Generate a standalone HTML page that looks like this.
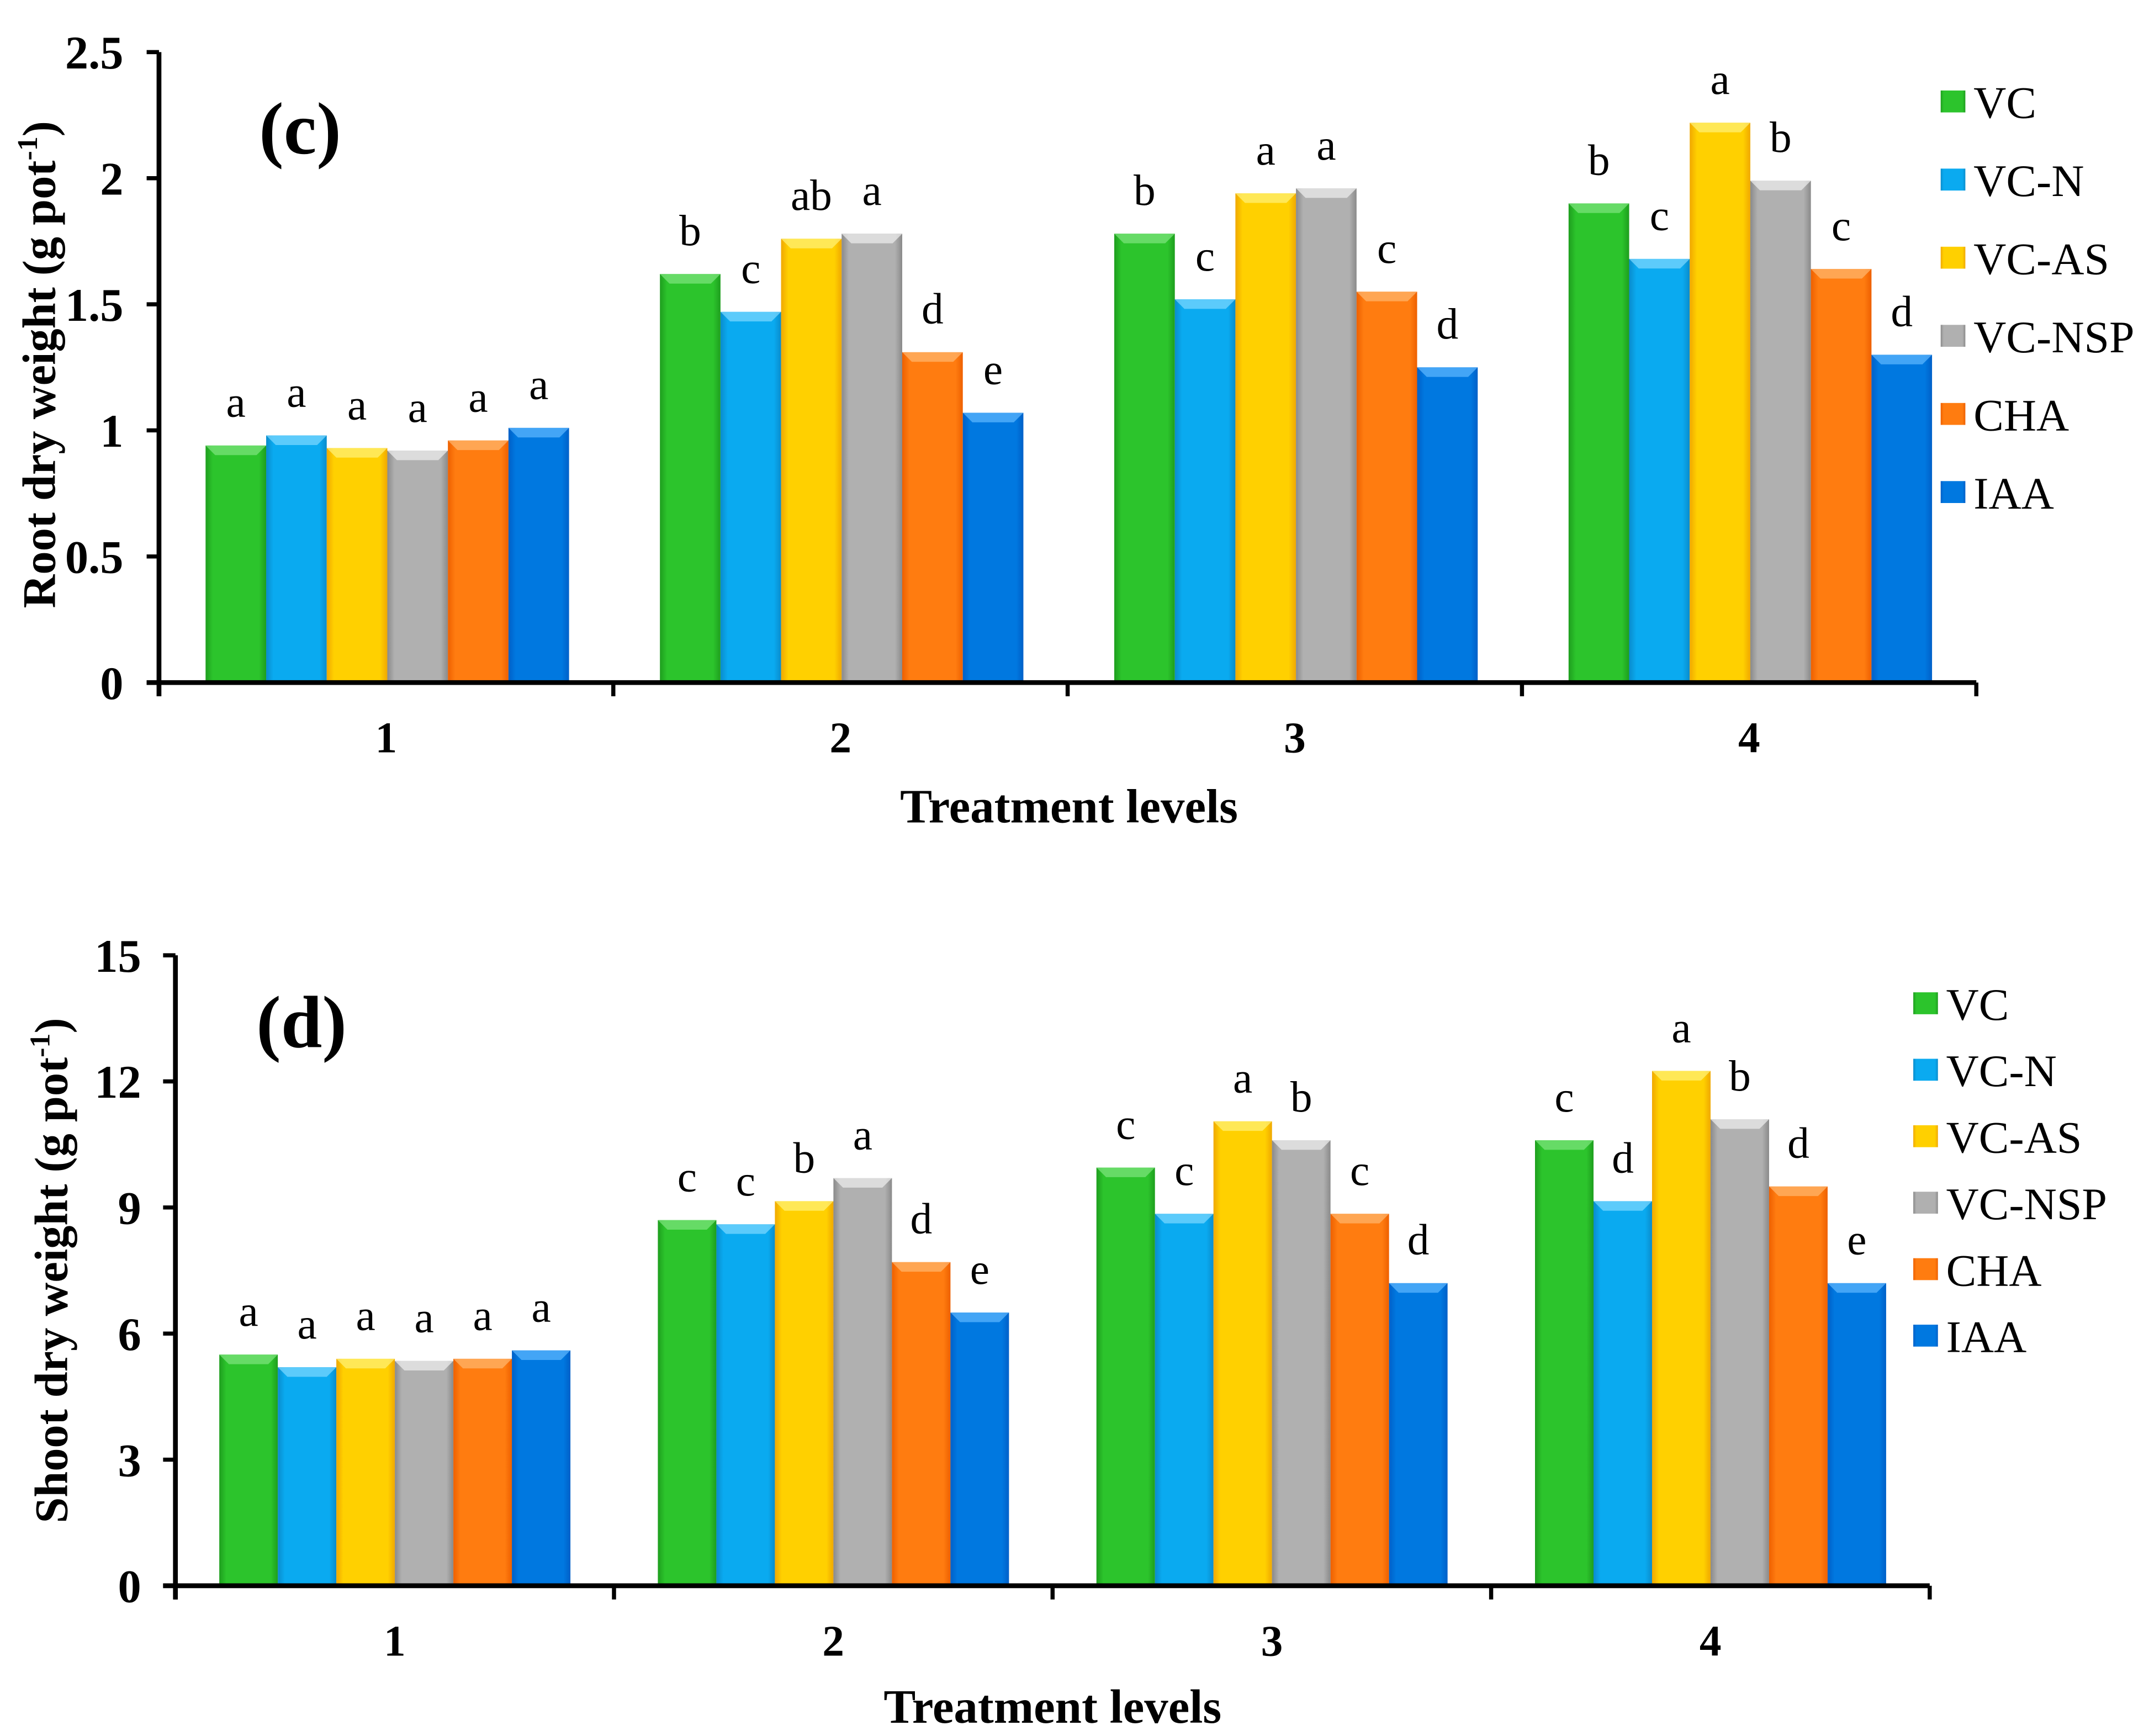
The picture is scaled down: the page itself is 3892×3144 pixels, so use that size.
<!DOCTYPE html>
<html><head><meta charset="utf-8"><style>
html,body{margin:0;padding:0;background:#fff}
svg{display:block}
text{font-family:"Liberation Serif",serif;fill:#000}
</style></head><body>
<svg id="c" width="3892" height="3144" viewBox="0 0 1568 1266.6" xmlns="http://www.w3.org/2000/svg">
<defs id="defs"></defs>
</svg>
<script>
const series = ["VC","VC-N","VC-AS","VC-NSP","CHA","IAA"];
const categories = ["1","2","3","4"];
const rootValues = [
 [0.94,0.98,0.93,0.92,0.96,1.01],
 [1.62,1.47,1.76,1.78,1.31,1.07],
 [1.78,1.52,1.94,1.96,1.55,1.25],
 [1.90,1.68,2.22,1.99,1.64,1.30]];
const rootLetters = [
 ["a","a","a","a","a","a"],
 ["b","c","ab","a","d","e"],
 ["b","c","a","a","c","d"],
 ["b","c","a","b","c","d"]];
const rootTicks = ["0","0.5","1","1.5","2","2.5"];
const shootValues = [
 [5.5,5.2,5.4,5.35,5.4,5.6],
 [8.7,8.6,9.15,9.7,7.7,6.5],
 [9.95,8.85,11.05,10.6,8.85,7.2],
 [10.6,9.15,12.25,11.1,9.5,7.2]];
const shootLetters = [
 ["a","a","a","a","a","a"],
 ["c","c","b","a","d","e"],
 ["c","c","a","b","c","d"],
 ["c","d","a","b","d","e"]];
const shootTicks = ["0","3","6","9","12","15"];

const colors = [["#1e9e1e","#2cc42c","#7fe57f"],["#0a8ccc","#0aaaf0","#7fd8ff"],["#f0a800","#ffd000","#fff27a"],["#8a8a8a","#b0b0b0","#f0f0f0"],["#ee6000","#ff7c10","#ffb870"],["#0060c8","#0078e0","#60b8ff"]];
const NS="http://www.w3.org/2000/svg";
const svg=document.getElementById('c');
const defs=document.getElementById('defs');
function el(tag,attrs,parent){const e=document.createElementNS(NS,tag);for(const k in attrs)e.setAttribute(k,attrs[k]);(parent||svg).appendChild(e);return e;}
colors.forEach((c,i)=>{
 const g=el('linearGradient',{id:'g'+i,x1:0,x2:1,y1:0,y2:0},defs);
 el('stop',{offset:0,'stop-color':c[0]},g);el('stop',{offset:0.12,'stop-color':c[1]},g);
 el('stop',{offset:0.88,'stop-color':c[1]},g);el('stop',{offset:1,'stop-color':c[0]},g);
});
function drawChart(o){
 const grp=el('g',{});
 
 
 const y=v=>o.y0-(v/o.max)*(o.y0-o.yTop);
 const gw=(o.xEnd-o.x0)/categories.length;
 o.values.forEach((row,gi)=>{
  row.forEach((v,si)=>{
   const bx=o.x0+gi*gw+o.off+si*o.bw, by=y(v), h=o.y0-by;
   const r=el('rect',{x:bx,y:by,width:o.bw,height:h,fill:'url(#g'+si+')'},grp);
   
   
   const b=7;
   el('polygon',{points:`${bx},${by} ${bx+o.bw},${by} ${bx+o.bw-b},${by+b} ${bx+b},${by+b}`,fill:colors[si][2],opacity:0.7},grp);
   const t=el('text',{x:bx+o.bw/2,y:by-21,'text-anchor':'middle','font-size':32},grp);
   t.textContent=o.letters[gi][si];
   
   
  });
 });
 el('line',{x1:o.x0,y1:o.yTop,x2:o.x0,y2:o.y0+10,stroke:'#000','stroke-width':3.5},grp);
 el('line',{x1:o.x0-9,y1:o.y0,x2:o.xEnd,y2:o.y0,stroke:'#000','stroke-width':3.5},grp);
 o.ticks.forEach((tk,i)=>{
  const ty=y(parseFloat(tk));
  el('line',{x1:o.x0-9,y1:ty,x2:o.x0,y2:ty,stroke:'#000','stroke-width':3},grp);
  const t=el('text',{x:o.tickX,y:ty+12,'text-anchor':'end','font-size':34,'font-weight':'bold'},grp);
  t.textContent=tk;
  
  
 });
 for(let i=0;i<=categories.length;i++){
  const tx=o.x0+i*gw;
  el('line',{x1:tx,y1:o.y0,x2:tx,y2:o.y0+10,stroke:'#000','stroke-width':3},grp);
 }
 categories.forEach((c,i)=>{
  const t=el('text',{x:o.x0+(i+0.5)*gw,y:o.catY,'text-anchor':'middle','font-size':32,'font-weight':'bold'},grp);
  t.textContent=c;
  
  
 });
 const xt=el('text',{x:o.xTitleX,y:o.xTitleY,'text-anchor':'middle','font-size':35,'font-weight':'bold'},grp);
 xt.textContent='Treatment levels';
 
 
 const yt=el('text',{x:0,y:0,'text-anchor':'middle','font-size':34,'font-weight':'bold',transform:`translate(${o.yTitleX},${o.yTitleY}) rotate(-90)`},grp);
 yt.innerHTML=o.yTitle+' (g pot<tspan dy="-13" font-size="21">-1</tspan><tspan dy="13">)</tspan>';
 
 
 const pl=el('text',{x:o.panelX,y:o.panelY,'font-size':54,'font-weight':'bold'},grp);
 pl.textContent=o.panel;
 
 
 series.forEach((s,i)=>{
  const ly=o.legY+i*o.legGap;
  const sw=el('rect',{x:o.legX,y:ly-8,width:18,height:16,fill:'url(#g'+i+')'},grp);
  
  
  const t=el('text',{x:o.legX+24,y:ly+12,'font-size':33},grp);
  t.textContent=s;
  
  
 });
}
drawChart({name:'root-chart',values:rootValues,letters:rootLetters,ticks:rootTicks,max:2.5,x0:116,xEnd:1442,y0:498,yTop:38,off:34,bw:44.2,tickX:90,catY:549,xTitleX:780,xTitleY:600,yTitle:'Root dry weight',yTitleX:40,yTitleY:266,panel:'(c)',panelX:189,panelY:112,legX:1416,legY:74,legGap:57});
drawChart({name:'shoot-chart',values:shootValues,letters:shootLetters,ticks:shootTicks,max:15,x0:128,xEnd:1408,y0:1157,yTop:697,off:32,bw:42.7,tickX:103,catY:1208,xTitleX:768,xTitleY:1257,yTitle:'Shoot dry weight',yTitleX:49,yTitleY:927,panel:'(d)',panelX:187,panelY:764,legX:1396,legY:732,legGap:48.5});
</script>
</body></html>
